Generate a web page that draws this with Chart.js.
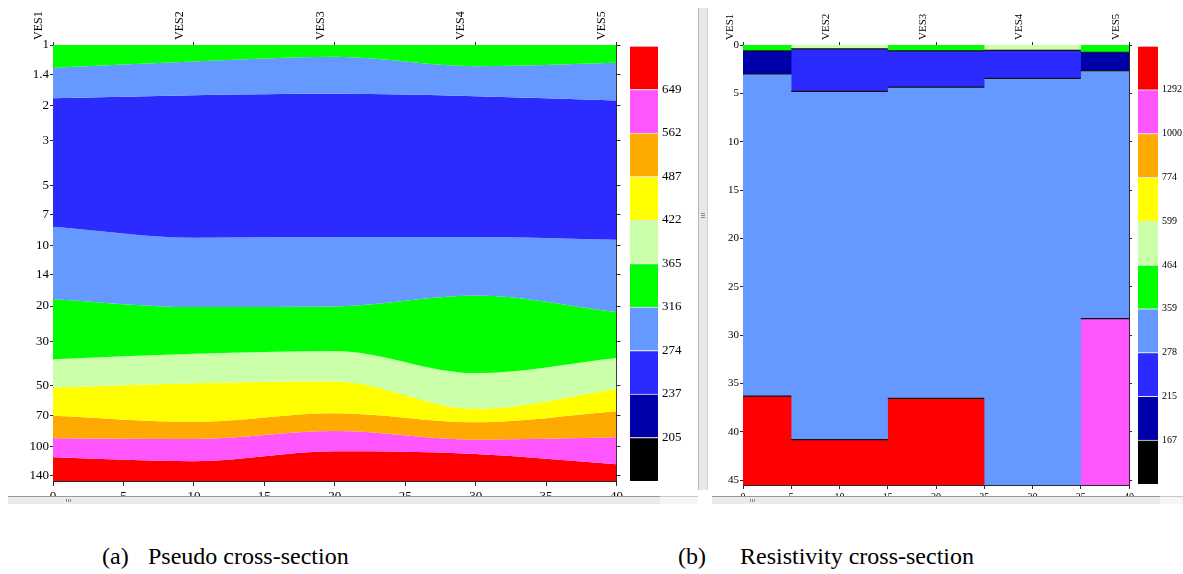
<!DOCTYPE html>
<html>
<head>
<meta charset="utf-8">
<script src="https://cdn.jsdelivr.net/npm/chart.js@4.4.0/dist/chart.umd.min.js"></script>
<style>
  body { margin: 0; background: #fff; width: 1183px; height: 574px; position: relative; overflow: hidden; font-family: 'Liberation Serif', 'Times New Roman', serif; }
  canvas { position: absolute; display: block; }
  .hscroll { position: absolute; top: 496px; height: 7px; background: #ebebeb; border-top: 1px solid #9a9a9a; }
  .hscroll-end { position: absolute; top: 496px; height: 7px; background: #f6f6f6; border-top: 1px solid #c8c8c8; }
  .grip-h { position: absolute; top: 2px; width: 6px; height: 3px; background: repeating-linear-gradient(90deg, #8a8a8a 0 1px, transparent 1px 2px); }
  .vdiv { position: absolute; left: 698px; top: 8px; width: 8px; height: 482px; background: #e8e8e8; border-left: 1px solid #b8b8b8; border-right: 1px solid #d0d0d0; }
  .grip-v { position: absolute; left: 2px; top: 205px; width: 4px; height: 6px; background: repeating-linear-gradient(180deg, #8a8a8a 0 1px, transparent 1px 2px); }
  .caption { position: absolute; top: 543px; font-size: 24px; color: #000; white-space: nowrap; }
</style>
</head>
<body>
<canvas id="pseudoChart" width="626" height="500" style="left:0;top:0"></canvas>
<canvas id="pseudoLegend" width="72" height="450" style="left:628px;top:40px"></canvas>
<canvas id="resChart" width="428" height="500" style="left:708px;top:0"></canvas>
<canvas id="resLegend" width="47" height="450" style="left:1136px;top:40px"></canvas>

<div class="hscroll" style="left:8px;width:652px"><div class="grip-h" style="left:58px"></div></div>
<div class="hscroll-end" style="left:660px;width:38px"></div>
<div class="hscroll" style="left:712px;width:448px"><div class="grip-h" style="left:38px"></div></div>
<div class="hscroll-end" style="left:1160px;width:23px"></div>
<div class="vdiv"><div class="grip-v"></div></div>

<div class="caption" style="left:102px">(a)</div>
<div class="caption" style="left:148px">Pseudo cross-section</div>
<div class="caption" style="left:678px">(b)</div>
<div class="caption" style="left:740px">Resistivity cross-section</div>

<script>
// Sounding stations along the profile (distance, m)
const vesLabels = ['VES1', 'VES2', 'VES3', 'VES4', 'VES5'];
const vesPositions = [0, 10, 20, 30, 40];
const distanceTicks = [0, 5, 10, 15, 20, 25, 30, 35, 40];

// Colour classes: 0 black .. 9 red
const palette = ['#000000', '#0000aa', '#2b2bff', '#6699ff', '#00ff00',
                 '#ccffaa', '#ffff00', '#ffaa00', '#ff55ff', '#ff0000'];

// (a) pseudo section - layer boundaries (depth) at each VES
const pseudoDepthTicks = [1, 1.4, 2, 3, 5, 7, 10, 14, 20, 30, 50, 70, 100, 140];
const pseudoB1 = [1.30, 1.21, 1.145, 1.276, 1.227];
const pseudoB2 = [1.844, 1.78, 1.752, 1.80, 1.892];
const pseudoB3 = [8.05, 9.13, 9.06, 9.06, 9.35];
const pseudoB4 = [18.5, 20.25, 20.1, 17.72, 21.45];
const pseudoB5 = [36.8, 34.6, 33.5, 43.2, 36.3];
const pseudoB6 = [51.0, 48.5, 47.6, 65.2, 51.9];
const pseudoB7 = [70.4, 75.6, 68.4, 75.9, 66.9];
const pseudoB8 = [91.2, 91.9, 83.9, 92.7, 90.2];
const pseudoB9 = [113.4, 118.8, 105.9, 109.2, 123.0];
const pseudoLayerClasses = [4, 3, 2, 3, 4, 5, 6, 7, 8, 9];
const pseudoLegendValues = [205, 237, 274, 316, 365, 422, 487, 562, 649];

// (b) resistivity section - layer tops (depth, m) per sounding column
const resColumnEdges = [0, 5, 15, 25, 35, 40];
const resDepthTicks = [0, 5, 10, 15, 20, 25, 30, 35, 40, 45];
const ves1Tops = [0, 0.6, 3.0, 36.3];
const ves1Classes = [4, 1, 3, 9];
const ves2Tops = [0, 0.4, 4.8, 40.8];
const ves2Classes = [5, 2, 3, 9];
const ves3Tops = [0, 0.6, 4.35, 36.55];
const ves3Classes = [4, 2, 3, 9];
const ves4Tops = [0, 0.55, 3.45];
const ves4Classes = [5, 2, 3];
const ves5Tops = [0, 0.75, 2.65, 28.3];
const ves5Classes = [4, 1, 3, 8];
const resLegendValues = [167, 215, 278, 359, 464, 599, 774, 1000, 1292];

const pseudoMin = 1, pseudoMax = 149;
const resMax = 45.5;
const axisColor = '#2a2a2a';
const clear = 'rgba(0,0,0,0)';
const serif = "'Liberation Serif', 'Times New Roman', serif";

Chart.defaults.font.family = serif;
Chart.defaults.color = '#000';
Chart.defaults.animation = false;

function fixTicks(values) {
  return scale => { scale.ticks = values.map(v => ({ value: v })); };
}

function frameAxis(extra) {
  return Object.assign({
    grid: { display: true, drawOnChartArea: false, drawTicks: true, tickLength: 4, color: axisColor },
    border: { display: true, color: axisColor, width: 1 }
  }, extra);
}

// Pseudo cross-section
function createPseudoChart() {
  const top = vesPositions.map(() => pseudoMin);
  const bottom = vesPositions.map(() => pseudoMax);
  const bounds = [top, pseudoB1, pseudoB2, pseudoB3, pseudoB4, pseudoB5,
                  pseudoB6, pseudoB7, pseudoB8, pseudoB9, bottom];

  const datasets = bounds.map((b, i) => ({
    data: vesPositions.map((x, j) => ({ x: x, y: b[j] })),
    fill: i < bounds.length - 1 ? '+1' : false,
    backgroundColor: i < bounds.length - 1 ? palette[pseudoLayerClasses[i]] : clear,
    borderColor: clear,
    borderWidth: 0,
    pointRadius: 0,
    tension: 0.4,
    cubicInterpolationMode: 'monotone'
  }));

  new Chart(document.getElementById('pseudoChart'), {
    type: 'line',
    data: { datasets: datasets },
    options: {
      responsive: false,
      layout: { padding: 0 },
      plugins: { legend: { display: false }, tooltip: { enabled: false }, filler: { drawTime: 'beforeDatasetsDraw' } },
      scales: {
        x: frameAxis({
          type: 'linear', position: 'bottom', min: 0, max: 40,
          afterBuildTicks: fixTicks(distanceTicks),
          afterFit: s => { s.height = 19; },
          grid: { display: true, drawOnChartArea: false, tickLength: 5, color: axisColor },
          ticks: { font: { family: serif, size: 13 }, padding: 3, maxRotation: 0, autoSkip: false }
        }),
        x2: frameAxis({
          type: 'linear', position: 'top', min: 0, max: 40, display: true,
          afterBuildTicks: fixTicks(vesPositions),
          afterFit: s => { s.height = 45; },
          grid: { display: true, drawOnChartArea: false, tickLength: 3, color: axisColor },
          ticks: { font: { family: serif, size: 12 }, padding: 2, minRotation: 90, maxRotation: 90, autoSkip: false,
                   callback: (v) => vesLabels[vesPositions.indexOf(v)] }
        }),
        y: frameAxis({
          type: 'logarithmic', position: 'left', reverse: true, min: pseudoMin, max: pseudoMax,
          afterBuildTicks: fixTicks(pseudoDepthTicks),
          afterFit: s => { s.width = 53; },
          grid: { display: true, drawOnChartArea: false, tickLength: 3, color: axisColor },
          ticks: { font: { family: serif, size: 13 }, padding: 1, callback: v => String(v) }
        }),
        y2: frameAxis({
          type: 'logarithmic', position: 'right', reverse: true, min: pseudoMin, max: pseudoMax, display: true,
          afterBuildTicks: fixTicks(pseudoDepthTicks),
          afterFit: s => { s.width = 5; },
          grid: { display: true, drawOnChartArea: false, tickLength: 4, color: axisColor },
          ticks: { display: false }
        })
      }
    }
  });
}

// Resistivity cross-section
function createResChart() {
  const columns = [
    [ves1Tops, ves1Classes], [ves2Tops, ves2Classes], [ves3Tops, ves3Classes],
    [ves4Tops, ves4Classes], [ves5Tops, ves5Classes]
  ];
  const profileEnd = resColumnEdges[resColumnEdges.length - 1];
  const fills = [];
  const interfaces = [];

  // each column is filled from its left edge to the end of the profile;
  // the next column is painted over it, so no seams show between columns
  columns.forEach(([tops, classes], c) => {
    const bounds = tops.concat([resMax]);
    const x0 = resColumnEdges[c], x1 = resColumnEdges[c + 1];
    const group = bounds.map((d, j) => ({
      data: [{ x: x0, y: d }, { x: profileEnd, y: d }],
      fill: j < bounds.length - 1 ? '+1' : false,
      backgroundColor: j < bounds.length - 1 ? palette[classes[j]] : clear,
      borderColor: clear,
      borderWidth: 0,
      pointRadius: 0
    }));
    fills.unshift(...group);
    bounds.slice(1, -1).forEach(d => {
      interfaces.push({
        data: [{ x: x0, y: d }, { x: x1, y: d }],
        fill: false,
        borderColor: '#111',
        borderWidth: 1.2,
        pointRadius: 0
      });
    });
  });

  new Chart(document.getElementById('resChart'), {
    type: 'line',
    data: { datasets: interfaces.concat(fills) },
    options: {
      responsive: false,
      layout: { padding: 0 },
      plugins: { legend: { display: false }, tooltip: { enabled: false }, filler: { drawTime: 'beforeDatasetsDraw' } },
      scales: {
        x: frameAxis({
          type: 'linear', position: 'bottom', min: 0, max: 40,
          afterBuildTicks: fixTicks(distanceTicks),
          afterFit: s => { s.height = 15; },
          ticks: { font: { family: serif, size: 10 }, padding: 2, maxRotation: 0, autoSkip: false }
        }),
        x2: frameAxis({
          type: 'linear', position: 'top', min: 0, max: 40, display: true,
          afterBuildTicks: fixTicks(vesPositions),
          afterFit: s => { s.height = 45; },
          grid: { display: true, drawOnChartArea: false, tickLength: 3, color: axisColor },
          ticks: { font: { family: serif, size: 11 }, padding: 2, minRotation: 90, maxRotation: 90, autoSkip: false,
                   callback: (v) => vesLabels[vesPositions.indexOf(v)] }
        }),
        y: frameAxis({
          type: 'linear', position: 'left', reverse: true, min: 0, max: resMax,
          afterBuildTicks: fixTicks(resDepthTicks),
          afterFit: s => { s.width = 35; },
          grid: { display: true, drawOnChartArea: false, tickLength: 3, color: axisColor },
          ticks: { font: { family: serif, size: 11 }, padding: 1 }
        }),
        y2: frameAxis({
          type: 'linear', position: 'right', reverse: true, min: 0, max: resMax, display: true,
          afterBuildTicks: fixTicks(resDepthTicks),
          afterFit: s => { s.width = 4; },
          grid: { display: true, drawOnChartArea: false, tickLength: 3, color: axisColor },
          ticks: { display: false }
        })
      }
    }
  });
}

// Colour scale bars
function createLegendBar(canvasId, values, fontSize, axisWidth, pad) {
  const datasets = palette.map(color => ({
    data: [1],
    backgroundColor: color,
    borderColor: '#e4e4e4',
    borderWidth: { top: 1, bottom: 0, left: 0, right: 0 },
    borderSkipped: false,
    barPercentage: 1,
    categoryPercentage: 1
  }));
  const tickValues = values.map((v, i) => i + 1);

  new Chart(document.getElementById(canvasId), {
    type: 'bar',
    data: { labels: [''], datasets: datasets },
    options: {
      responsive: false,
      layout: { padding: pad },
      plugins: { legend: { display: false }, tooltip: { enabled: false } },
      scales: {
        x: { stacked: true, display: false },
        y: {
          stacked: true, position: 'right', min: 0, max: palette.length,
          afterBuildTicks: fixTicks(tickValues),
          afterFit: s => { s.width = axisWidth; s.paddingTop = 0; s.paddingBottom = 0; },
          grid: { display: false, drawTicks: false, tickLength: 0 },
          border: { display: false },
          ticks: { font: { family: serif, size: fontSize }, padding: 4, callback: v => String(values[v - 1]) }
        }
      }
    }
  });
}

createPseudoChart();
createResChart();
createLegendBar('pseudoLegend', pseudoLegendValues, 13, 42, { left: 2, top: 6, bottom: 9, right: 0 });
createLegendBar('resLegend', resLegendValues, 10, 25, { left: 2, top: 6, bottom: 6, right: 0 });
</script>
</body>
</html>
